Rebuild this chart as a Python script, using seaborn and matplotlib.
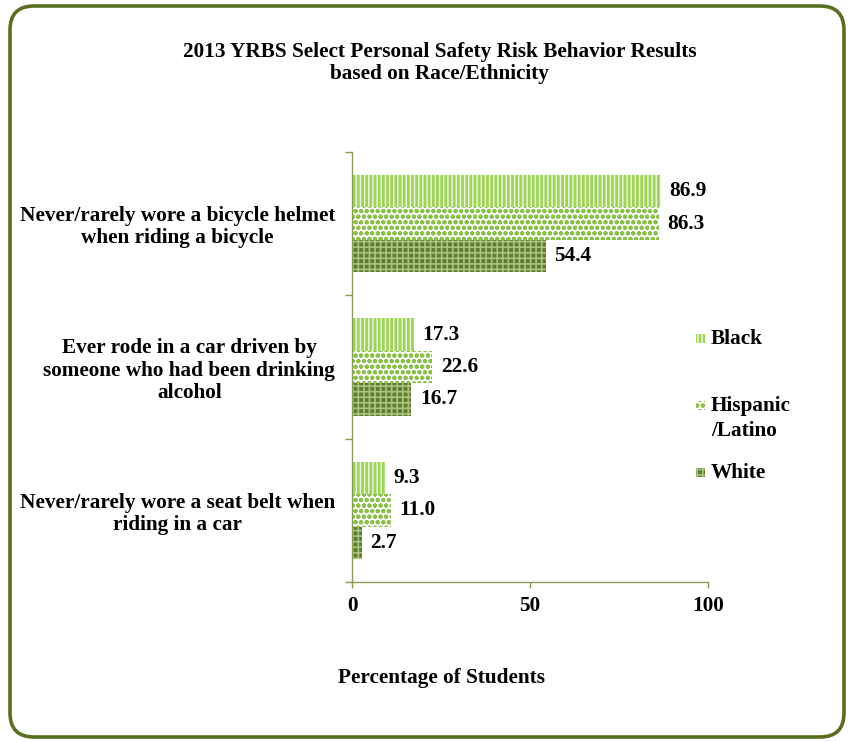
import matplotlib
matplotlib.use("Agg")
import matplotlib.pyplot as plt
import seaborn as sns
import pandas as pd
from matplotlib.patches import FancyBboxPatch, Rectangle
from matplotlib.transforms import IdentityTransform

categories = [
    "Never/rarely wore a bicycle helmet\nwhen riding a bicycle",
    "Ever rode in a car driven by\nsomeone who had been drinking\nalcohol",
    "Never/rarely wore a seat belt when\nriding in a car",
]
groups = ["Black", "Hispanic\n/Latino", "White"]
black_vals = [86.9, 17.3, 9.3]
hispanic_vals = [86.3, 22.6, 11.0]
white_vals = [54.4, 16.7, 2.7]
x_ticks = [0, 50, 100]

title = "2013 YRBS Select Personal Safety Risk Behavior Results\nbased on Race/Ethnicity"
xlabel = "Percentage of Students"

face_colors = ["#9fd45a", "#ffffff", "#5f7d2c"]
hatch_colors = ["#eef8df", "#8cc04a", "#a9c482"]
hatches = ["||||", "ooo", "+++"]
hatch_lws = [1.0, 1.4, 1.2]

rows = []
for g, vals in zip(groups, [black_vals, hispanic_vals, white_vals]):
    for c, v in zip(categories, vals):
        rows.append({"category": c, "group": g, "value": v})
df = pd.DataFrame(rows)

sns.set_style("white")
plt.rcParams["font.family"] = ["Liberation Serif", "DejaVu Serif"]
plt.rcParams["hatch.linewidth"] = 1.4
plt.rcParams["text.color"] = "black"
plt.rcParams["xtick.labelcolor"] = "black"
plt.rcParams["ytick.labelcolor"] = "black"
FS = 15.3

fig = plt.figure(figsize=(8.49, 7.42), dpi=100)
ax = fig.add_axes([352 / 849, 1 - 582 / 742, (708 - 352) / 849, (582 - 152) / 742])

sns.barplot(data=df, y="category", x="value", hue="group", orient="h",
            order=categories, hue_order=groups, palette=face_colors,
            width=0.68, ax=ax, legend=False, saturation=1)


def style_patch(p, fc, hc, h, hlw):
    p.set_facecolor(fc)
    p.set_edgecolor(hc)
    p.set_hatch(h)
    p.set_linewidth(0)
    if hasattr(p, "set_hatch_linewidth"):
        p.set_hatch_linewidth(hlw)


for cont, fc, hc, h, hlw in zip(ax.containers, face_colors, hatch_colors, hatches, hatch_lws):
    for bar in cont:
        style_patch(bar, fc, hc, h, hlw)
    ax.bar_label(cont, fmt="%.1f", padding=6, fontsize=FS, fontweight="bold", color="black")

ax.set_xlim(0, 100)
ax.set_ylim(2.5, -0.5)
ax.set_xticks(x_ticks)
ax.set_xticklabels([str(t) for t in x_ticks], fontsize=FS, fontweight="bold", color="black")
ax.set_yticks(range(len(categories)))
ax.set_yticklabels(categories, fontsize=FS, fontweight="bold", multialignment="center",
                   linespacing=1.15, color="black")
ax.set_yticks([-0.5, 0.5, 1.5, 2.5], minor=True)
ax.tick_params(axis="y", which="major", left=False, length=0, pad=12)
ax.tick_params(axis="y", which="minor", left=True, length=5, color="#8a9a5b", width=1,
               direction="out")
ax.tick_params(axis="x", which="major", bottom=True, length=4, color="#8a9a5b", width=1,
               pad=6, direction="out")
ax.set_xlabel("")
ax.set_ylabel("")
for s in ["top", "right"]:
    ax.spines[s].set_visible(False)
for s in ["left", "bottom"]:
    ax.spines[s].set_color("#8a9a5b")
    ax.spines[s].set_linewidth(1)

fig.text(0.518, 1 - 63 / 742, title, ha="center", va="center", fontsize=FS,
         fontweight="bold", linespacing=1.15, color="black")
fig.text(441 / 849, 1 - 678 / 742, xlabel, ha="center", va="center", fontsize=FS,
         fontweight="bold", color="black")

# legend (top-aligned entries)
leg_y = [338, 405, 472]
for lbl, y, fc, hc, h, hlw in zip(groups, leg_y, face_colors, hatch_colors, hatches, hatch_lws):
    r = Rectangle((696, 742 - y - 5), 9, 9, transform=IdentityTransform())
    style_patch(r, fc, hc, h, hlw)
    fig.patches.append(r)
    fig.text(711 / 849, 1 - (y - 9) / 742, lbl, ha="left", va="top",
             fontsize=FS, fontweight="bold", linespacing=1.35, color="black")

border = FancyBboxPatch((10, 5), 834, 731, boxstyle="round,pad=0,rounding_size=24",
                        transform=IdentityTransform(), facecolor="none",
                        edgecolor="#5a6e22", linewidth=2.6)
fig.patches.append(border)

fig.savefig("out.png", dpi=100)
